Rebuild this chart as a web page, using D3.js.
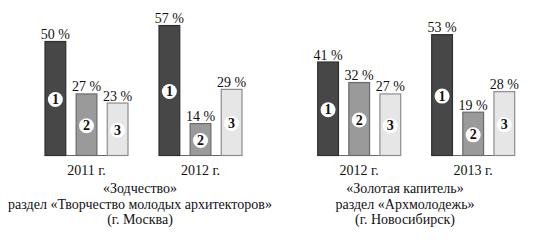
<!DOCTYPE html>
<html>
<head>
<meta charset="utf-8">
<script src="https://cdn.jsdelivr.net/npm/d3@7"></script>
<style>
  body { margin: 0; background: #fff; }
</style>
</head>
<body>
<div id="chart"></div>
<script>
// bar numbers (1, 2, 3) within each year
const categories = ["1", "2", "3"];

const moscowYears = ["2011 г.", "2012 г."];
const moscowValues = [[50, 27, 23], [57, 14, 29]];
const moscowCaption = ["«Зодчество»", "раздел «Творчество молодых архитекторов»", "(г. Москва)"];

const novosibYears = ["2012 г.", "2013 г."];
const novosibValues = [[41, 32, 27], [53, 19, 28]];
const novosibCaption = ["«Золотая капитель»", "раздел «Архмолодежь»", "(г. Новосибирск)"];

const panels = [
    { years: moscowYears, values: moscowValues, caption: moscowCaption, x0: 45, captionX: 140 },
    { years: novosibYears, values: novosibValues, caption: novosibCaption, x0: 317.7, captionX: 405 }
];

const width = 533, height = 240;
const baseY = 155.5;
const serif = "'Liberation Serif'";

const fills = { "1": "#474747", "2": "#9a9a9a", "3": "#e6e6e6" };
const strokes = { "1": "#2e2e2e", "2": "#6a6a6a", "3": "#8c8c8c" };

let svg = d3.select("#chart").append("svg")
    .attr("width", width)
    .attr("height", height)
    .style("display", "block");

let y = d3.scaleLinear()
    .domain([0, 100])
    .range([baseY, baseY - 228]);

panels.forEach(p => {
    let g = svg.append("g").attr("transform", "translate(" + p.x0 + ",0)");

    let xGroup = d3.scaleBand()
        .domain(p.years)
        .range([0, 197])
        .paddingInner(31 / 114);

    let xBar = d3.scaleBand()
        .domain(categories)
        .range([0, xGroup.bandwidth()])
        .paddingInner(0.333);

    p.years.forEach((yr, gi) => {
        let gg = g.append("g").attr("transform", "translate(" + xGroup(yr) + ",0)");
        let rows = categories.map((c, i) => ({ cat: c, value: p.values[gi][i] }));

        // baseline
        gg.append("line")
            .attr("x1", 0)
            .attr("x2", xGroup.bandwidth())
            .attr("y1", baseY)
            .attr("y2", baseY)
            .attr("stroke", "#6a6a6a")
            .attr("stroke-width", 1.2);

        gg.selectAll(".bar")
            .data(rows)
            .enter()
            .append("rect")
            .attr("class", "bar")
            .attr("x", d => xBar(d.cat))
            .attr("y", d => y(d.value))
            .attr("width", xBar.bandwidth())
            .attr("height", d => baseY - y(d.value))
            .attr("fill", d => fills[d.cat])
            .attr("stroke", d => strokes[d.cat])
            .attr("stroke-width", 1.2);

        gg.selectAll(".val")
            .data(rows)
            .enter()
            .append("text")
            .attr("class", "val")
            .attr("x", d => xBar(d.cat) + xBar.bandwidth() / 2)
            .attr("y", d => y(d.value) - 2.5)
            .attr("text-anchor", "middle")
            .style("font-family", serif)
            .style("font-size", "14px")
            .attr("fill", "#111")
            .text(d => d.value + " %");

        let mid = d => (y(d.value) + baseY) / 2 + 1;

        gg.selectAll(".badge")
            .data(rows)
            .enter()
            .append("circle")
            .attr("class", "badge")
            .attr("cx", d => xBar(d.cat) + xBar.bandwidth() / 2)
            .attr("cy", mid)
            .attr("r", 7.5)
            .attr("fill", "#fff");

        gg.selectAll(".num")
            .data(rows)
            .enter()
            .append("text")
            .attr("class", "num")
            .attr("x", d => xBar(d.cat) + xBar.bandwidth() / 2)
            .attr("y", d => mid(d) + 4.5)
            .attr("text-anchor", "middle")
            .style("font-family", serif)
            .style("font-size", "14px")
            .style("font-weight", "bold")
            .attr("fill", "#111")
            .text(d => d.cat);

        gg.append("text")
            .attr("x", xGroup.bandwidth() / 2)
            .attr("y", 175)
            .attr("text-anchor", "middle")
            .style("font-family", serif)
            .style("font-size", "14px")
            .attr("fill", "#111")
            .text(yr);
    });

    svg.append("g")
        .selectAll("text")
        .data(p.caption)
        .enter()
        .append("text")
        .attr("x", p.captionX)
        .attr("y", (d, i) => 193 + i * 15.5)
        .attr("text-anchor", "middle")
        .style("font-family", serif)
        .style("font-size", "14px")
        .attr("fill", "#111")
        .text(d => d);
});
</script>
</body>
</html>
